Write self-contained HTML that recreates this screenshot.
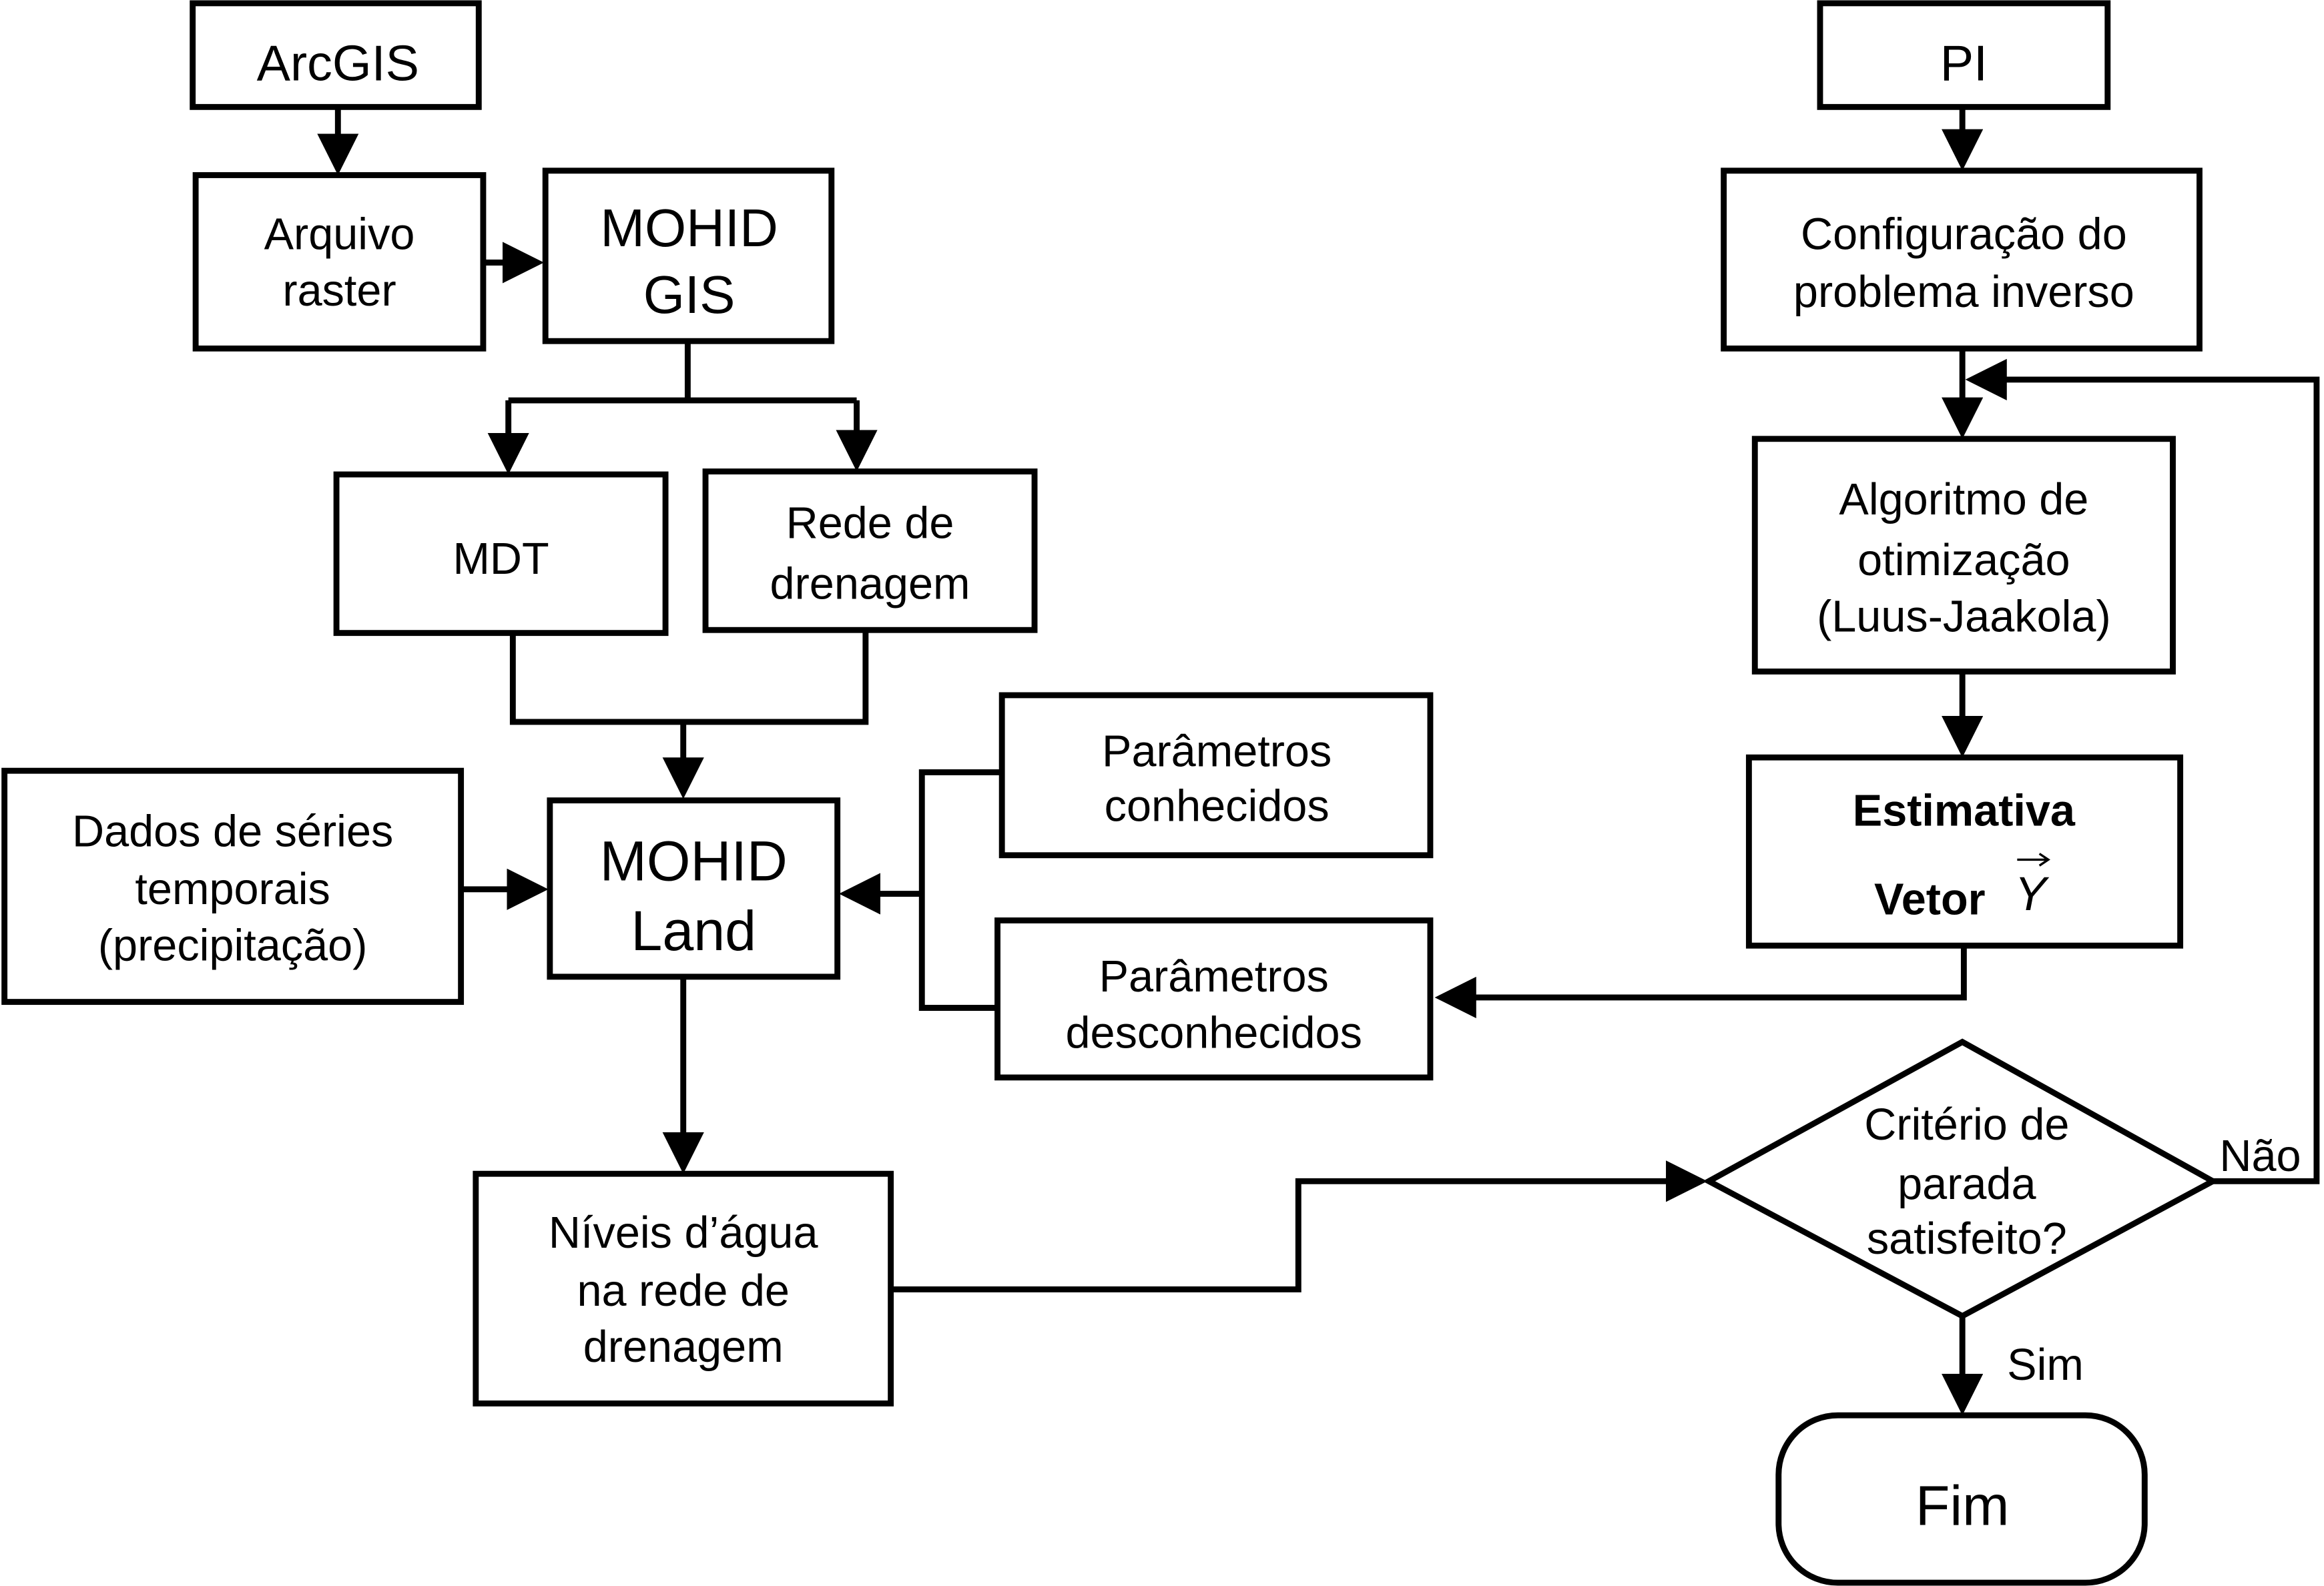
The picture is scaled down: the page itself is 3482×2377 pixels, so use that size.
<!DOCTYPE html>
<html><head><meta charset="utf-8"><style>
html,body{margin:0;padding:0;background:#fff}
svg{display:block}
text{font-family:"Liberation Sans",Arial,sans-serif;fill:#000;text-anchor:middle}
</style></head><body>
<svg width="3482" height="2377" viewBox="0 0 1568 1070" xmlns="http://www.w3.org/2000/svg">
<defs><marker id="a" markerWidth="7" markerHeight="7" refX="6" refY="3.5" orient="auto" markerUnits="strokeWidth"><path d="M0,0 L7,3.5 L0,7 Z" fill="#000"/></marker></defs>
<g fill="none" stroke="#000" stroke-width="4">
<rect x="130" y="2" width="193" height="70"/>
<rect x="132" y="118" width="194" height="117"/>
<rect x="368" y="115" width="193" height="115"/>
<rect x="227" y="320" width="222" height="107"/>
<rect x="476" y="318" width="222" height="107"/>
<rect x="371" y="540" width="194" height="119"/>
<rect x="3" y="520" width="308" height="156"/>
<rect x="676" y="469" width="289" height="108"/>
<rect x="673" y="621" width="292" height="106"/>
<rect x="321" y="792" width="280" height="155"/>
<rect x="1228" y="2" width="194" height="70"/>
<rect x="1163" y="115" width="321" height="120"/>
<rect x="1184" y="296" width="282" height="157"/>
<rect x="1180" y="511" width="291" height="127"/>
<polygon points="1153,797 1324,703 1493,797 1324,888"/>
<rect x="1200" y="955" width="247" height="113" rx="40"/>
</g>
<g fill="none" stroke="#000" stroke-width="4">
<path d="M228,72 V114" marker-end="url(#a)"/>
<path d="M326,177 H363" marker-end="url(#a)"/>
<path d="M464,230 V270"/>
<path d="M343,270 H578"/>
<path d="M343,270 V316" marker-end="url(#a)"/>
<path d="M578,270 V314" marker-end="url(#a)"/>
<path d="M346,427 V487 H584 V425"/>
<path d="M461,487 V535" marker-end="url(#a)"/>
<path d="M311,600 H366" marker-end="url(#a)"/>
<path d="M676,521 H622 V680 H673"/>
<path d="M622,603 H570" marker-end="url(#a)"/>
<path d="M461,659 V788" marker-end="url(#a)"/>
<path d="M601,870 H876 V797 H1148" marker-end="url(#a)"/>
<path d="M1324,72 V111" marker-end="url(#a)"/>
<path d="M1324,235 V292" marker-end="url(#a)"/>
<path d="M1324,453 V507" marker-end="url(#a)"/>
<path d="M1325,638 V673 H972" marker-end="url(#a)"/>
<path d="M1493,797 H1563 V256 H1330" marker-end="url(#a)"/>
<path d="M1324,888 V951" marker-end="url(#a)"/>
</g>
<text x="228" y="54" font-size="34">ArcGIS</text>
<text x="229" y="168" font-size="30">Arquivo</text>
<text x="229" y="206" font-size="30">raster</text>
<text x="465" y="166" font-size="36">MOHID</text>
<text x="465" y="211" font-size="36">GIS</text>
<text x="338" y="387" font-size="30">MDT</text>
<text x="587" y="363" font-size="30">Rede de</text>
<text x="587" y="404" font-size="30">drenagem</text>
<text x="468" y="594" font-size="38">MOHID</text>
<text x="468" y="641" font-size="38">Land</text>
<text x="157" y="571" font-size="30">Dados de séries</text>
<text x="157" y="610" font-size="30">temporais</text>
<text x="157" y="648" font-size="30">(precipitação)</text>
<text x="821" y="517" font-size="30">Parâmetros</text>
<text x="821" y="554" font-size="30">conhecidos</text>
<text x="819" y="669" font-size="30">Parâmetros</text>
<text x="819" y="707" font-size="30">desconhecidos</text>
<text x="461" y="842" font-size="30">Níveis d’água</text>
<text x="461" y="881" font-size="30">na rede de</text>
<text x="461" y="919" font-size="30">drenagem</text>
<text x="1325" y="54" font-size="34">PI</text>
<text x="1325" y="168" font-size="30">Configuração do</text>
<text x="1325" y="207" font-size="30">problema inverso</text>
<text x="1325" y="347" font-size="30">Algoritmo de</text>
<text x="1325" y="388" font-size="30">otimização</text>
<text x="1325" y="426" font-size="30">(Luus-Jaakola)</text>
<text x="1325" y="557" font-size="30" font-weight="bold">Estimativa</text>
<text x="1302" y="617" font-size="30" font-weight="bold">Vetor</text>
<text x="1370" y="614" font-size="32" font-style="italic" font-family="Liberation Serif,serif">Y</text>
<path d="M1361,580 H1381 M1376,576 L1382,580 L1376,584" fill="none" stroke="#000" stroke-width="1.5"/>
<text x="1327" y="769" font-size="30">Critério de</text>
<text x="1327" y="809" font-size="30">parada</text>
<text x="1327" y="846" font-size="30">satisfeito?</text>
<text x="1525" y="790" font-size="30">Não</text>
<text x="1380" y="931" font-size="30">Sim</text>
<text x="1324" y="1029" font-size="38">Fim</text>
</svg>
</body></html>
